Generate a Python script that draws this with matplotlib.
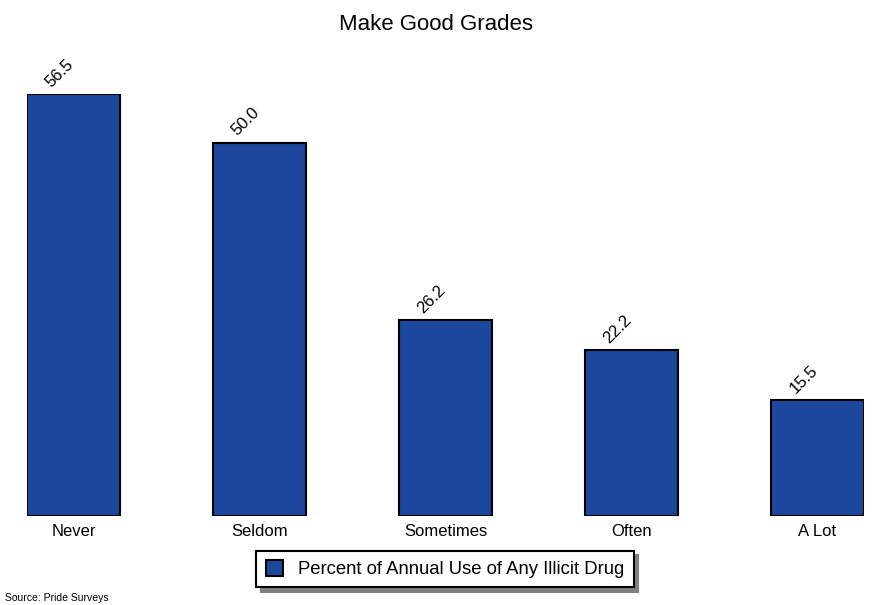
import matplotlib
matplotlib.use("Agg")
import matplotlib.pyplot as plt
from matplotlib.patches import Patch

plt.rcParams['font.family'] = ['Liberation Sans', 'DejaVu Sans']

# datos
categorias = ["Never", "Seldom", "Sometimes", "Often", "A Lot"]
valores = [56.5, 50.0, 26.2, 22.2, 15.5]
serie = "Percent of Annual Use of Any Illicit Drug"
color_barra = "#1b489c"

fig = plt.figure(figsize=(8.72, 6.05), dpi=100)
ax = fig.add_axes([27/872, 89/605, 837/872, 422/605])

x = list(range(len(categorias)))
ax.bar(x, valores, width=0.5, color=color_barra, edgecolor="black", linewidth=1.5)

for xi, v in zip(x, valores):
    ax.annotate(f"{v:.1f}", (xi, v), xytext=(-10, 15), textcoords="offset points",
                ha="center", va="center", rotation=45, fontsize=12, clip_on=False)

ax.set_xlim(-0.25, len(categorias) - 0.75)
ax.set_ylim(0, 56.5)
ax.set_xticks(x)
ax.set_xticklabels(categorias, fontsize=12)
ax.tick_params(axis="x", length=0, pad=6)
ax.set_yticks([])
for s in ax.spines.values():
    s.set_visible(False)

fig.text(0.5, 1 - 25/605, "Make Good Grades", ha="center", va="center", fontsize=16)

leg = fig.legend(handles=[Patch(facecolor=color_barra, edgecolor="black", linewidth=1.5, label=serie)],
                 loc="center", bbox_to_anchor=(445/872, 1 - 569/605), fontsize=13.3,
                 frameon=True, fancybox=False,
                 shadow={"color": "#808080", "alpha": 1, "ox": 3.5, "oy": -3.5},
                 edgecolor="black", handlelength=0.95, handleheight=0.95,
                 handletextpad=0.8, borderpad=0.5, borderaxespad=0)
leg.get_frame().set_linewidth(1.5)

fig.text(5/872, 1 - 598/605, "Source: Pride Surveys", ha="left", va="center", fontsize=7.5)

fig.savefig("out.png", dpi=100)
